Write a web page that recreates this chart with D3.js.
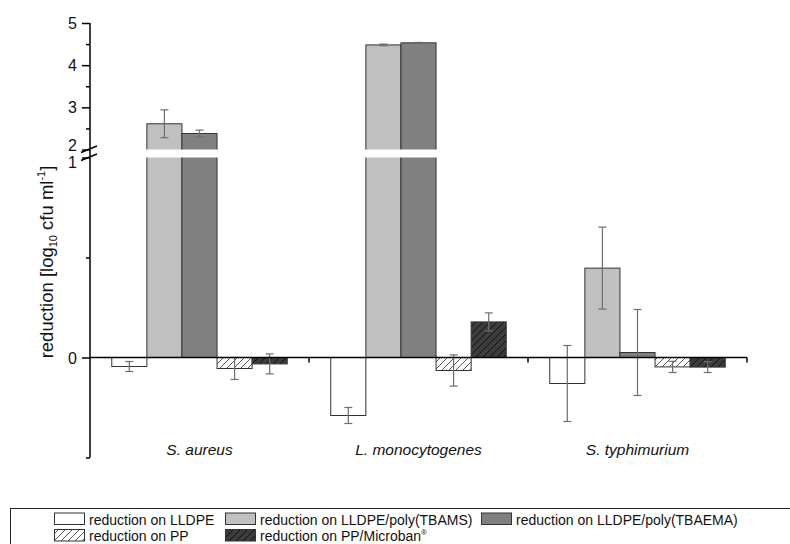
<!DOCTYPE html>
<html>
<head>
<meta charset="utf-8">
<script src="https://cdn.jsdelivr.net/npm/d3@7"></script>
<style>
  html, body { margin: 0; padding: 0; background: #fff; }
  svg { display: block; font-family: "Liberation Sans", Arial, sans-serif; }
</style>
</head>
<body>
<svg id="chart" width="790" height="544"></svg>
<script>
// Bacterial reduction per surface, log10 cfu/ml
const categories = ["S. aureus", "L. monocytogenes", "S. typhimurium"];
const seriesNames = [
  "reduction on LLDPE",
  "reduction on LLDPE/poly(TBAMS)",
  "reduction on LLDPE/poly(TBAEMA)",
  "reduction on PP",
  "reduction on PP/Microban"
];
const lldpe        = [-0.045, -0.29, -0.13];
const lldpeErr     = [0.025, 0.04, 0.19];
const tbams        = [2.61, 4.48, 0.447];
const tbamsErr     = [0.33, 0.02, 0.205];
const tbaema       = [2.38, 4.53, 0.025];
const tbaemaErr    = [0.08, 0.01, 0.215];
const pp           = [-0.055, -0.065, -0.047];
const ppErr        = [0.055, 0.078, 0.028];
const microban     = [-0.032, 0.178, -0.048];
const microbanErr  = [0.05, 0.045, 0.027];

// Broken y axis: lower segment and upper segment
const lowerTicks = [0, 1];
const lowerMinor = [-0.5, 0.5];
const upperTicks = [2, 3, 4, 5];
const upperMinor = [2.5, 3.5, 4.5];

const values = [lldpe, tbams, tbaema, pp, microban];
const errors = [lldpeErr, tbamsErr, tbaemaErr, ppErr, microbanErr];

const svg = d3.select("#chart");
const defs = svg.append("defs");

function hatch(id, bg, line) {
  const p = defs.append("pattern").attr("id", id)
    .attr("patternUnits", "userSpaceOnUse").attr("width", 7).attr("height", 7);
  p.append("rect").attr("width", 7).attr("height", 7).attr("fill", bg);
  p.append("path").attr("d", "M-1,1 L1,-1 M0,7 L7,0 M6,8 L8,6")
    .attr("stroke", line).attr("stroke-width", 1);
}
hatch("hatchPP", "#ffffff", "#555");
hatch("hatchMB", "#3c3c3c", "#111");

const fills = ["#ffffff", "#c0c0c0", "#808080", "url(#hatchPP)", "url(#hatchMB)"];

const xLeft = 90, xRight = 747;
const x0 = d3.scaleBand().domain(categories).range([xLeft, xRight]).padding(0);
const x1 = d3.scaleBand().domain(d3.range(seriesNames.length))
  .range([0, x0.bandwidth()]).paddingInner(0).paddingOuter(0.62);

const yLow = d3.scaleLinear().domain([-0.5, 1]).range([457.5, 157.5]);
const yHigh = d3.scaleLinear().domain([2, 5]).range([149.5, 23]);
const yMap = v => v >= 2 ? yHigh(v) : yLow(v);
const y0 = yLow(0);

// bars
const bars = [];
categories.forEach((c, ci) => {
  values.forEach((s, si) => {
    bars.push({ c, ci, si, v: s[ci], e: errors[si][ci] });
  });
});

const g = svg.append("g");
g.selectAll("rect.bar").data(bars).join("rect")
  .attr("class", "bar")
  .attr("x", d => x0(d.c) + x1(d.si))
  .attr("width", x1.bandwidth())
  .attr("y", d => Math.min(yMap(d.v), y0))
  .attr("height", d => Math.abs(yMap(d.v) - y0))
  .attr("fill", d => fills[d.si])
  .attr("stroke", "#333")
  .attr("stroke-width", 1);

// error bars
const eb = g.selectAll("g.err").data(bars).join("g").attr("class", "err")
  .attr("stroke", "#6e6e6e").attr("stroke-width", 1.2);
const cx = d => x0(d.c) + x1(d.si) + x1.bandwidth() / 2;
eb.append("line")
  .attr("x1", cx).attr("x2", cx)
  .attr("y1", d => yMap(d.v + d.e)).attr("y2", d => yMap(d.v - d.e));
eb.append("line")
  .attr("x1", d => cx(d) - 4).attr("x2", d => cx(d) + 4)
  .attr("y1", d => yMap(d.v + d.e)).attr("y2", d => yMap(d.v + d.e));
eb.append("line")
  .attr("x1", d => cx(d) - 4).attr("x2", d => cx(d) + 4)
  .attr("y1", d => yMap(d.v - d.e)).attr("y2", d => yMap(d.v - d.e));

// gap where the axis is broken
svg.append("rect")
  .attr("x", xLeft + 1).attr("width", xRight - xLeft)
  .attr("y", yHigh(2)).attr("height", yLow(1) - yHigh(2))
  .attr("fill", "#fff");

// y axes
function drawAxis(scale, major, minor, shift) {
  const a = svg.append("g").attr("transform", `translate(${xLeft},0)`);
  a.call(d3.axisLeft(scale).tickValues(major).tickSize(8).tickSizeOuter(0)
    .tickFormat(d3.format("d")).tickPadding(5));
  a.select(".domain").remove();
  a.selectAll("line").attr("stroke", "#000").attr("stroke-width", 1.5);
  a.selectAll("text").attr("font-size", 16).attr("fill", "#111")
    .attr("font-family", "Liberation Sans, Arial, sans-serif")
    .attr("dy", d => (shift[d] || 0) + 5.5);
  const m = svg.append("g").attr("transform", `translate(${xLeft},0)`);
  m.call(d3.axisLeft(scale).tickValues(minor).tickSize(4).tickFormat(""));
  m.select(".domain").remove();
  m.selectAll("line").attr("stroke", "#000").attr("stroke-width", 1.5);
}
drawAxis(yHigh, upperTicks, upperMinor, { 2: -5 });
drawAxis(yLow, lowerTicks, lowerMinor, { 1: 4.5 });

svg.append("line")
  .attr("x1", xLeft).attr("x2", xLeft)
  .attr("y1", yHigh(5)).attr("y2", yLow(-0.5))
  .attr("stroke", "#000").attr("stroke-width", 1.5);

// break marks
const bm = svg.append("g").attr("stroke", "#000").attr("stroke-width", 1.5);
bm.append("line").attr("x1", xLeft - 9).attr("y1", yHigh(2) + 3)
  .attr("x2", xLeft + 7).attr("y2", yHigh(2) - 3.5);
bm.append("line").attr("x1", xLeft - 9).attr("y1", yLow(1) + 3)
  .attr("x2", xLeft + 7).attr("y2", yLow(1) - 3.5);

// x axis along zero
const xa = svg.append("g").attr("transform", `translate(0,${y0})`);
xa.append("line").attr("x1", xLeft).attr("x2", xRight)
  .attr("stroke", "#000").attr("stroke-width", 1.5);
xa.selectAll("line.tk").data(categories).join("line").attr("class", "tk")
  .attr("x1", d => x0(d) + x0.bandwidth()).attr("x2", d => x0(d) + x0.bandwidth())
  .attr("y1", 0).attr("y2", 5)
  .attr("stroke", "#000").attr("stroke-width", 1.5);

// category labels
svg.selectAll("text.cat").data(categories).join("text").attr("class", "cat")
  .attr("x", d => x0(d) + x0.bandwidth() / 2)
  .attr("y", 455)
  .attr("text-anchor", "middle")
  .attr("font-size", 15.5)
  .attr("font-style", "italic")
  .attr("fill", "#111")
  .text(d => d);

// y title
const yt = svg.append("text")
  .attr("transform", "translate(53,262) rotate(-90)")
  .attr("text-anchor", "middle")
  .attr("font-size", 18.5)
  .attr("fill", "#111");
yt.append("tspan").text("reduction [log");
yt.append("tspan").attr("font-size", 11).attr("dy", 4).text("10");
yt.append("tspan").attr("dy", -4).text(" cfu ml");
yt.append("tspan").attr("font-size", 11).attr("dy", -8).text("-1");
yt.append("tspan").attr("dy", 8).text("]");

// legend
const lg = svg.append("g");
lg.append("rect").attr("x", 10.5).attr("y", 508.5).attr("width", 800).attr("height", 80)
  .attr("fill", "none").attr("stroke", "#222").attr("stroke-width", 1);
const legendPos = [
  { x: 54, y: 513 }, { x: 225, y: 513 }, { x: 481, y: 513 },
  { x: 54, y: 529.5 }, { x: 225, y: 529.5 }
];
seriesNames.forEach((name, i) => {
  const p = legendPos[i];
  lg.append("rect").attr("x", p.x + 0.5).attr("y", p.y).attr("width", 30).attr("height", 11.5)
    .attr("fill", fills[i]).attr("stroke", "#333").attr("stroke-width", 1);
  const t = lg.append("text").attr("x", p.x + 35).attr("y", p.y + 11.5)
    .attr("font-size", 14).attr("fill", "#111").text(name);
  if (i === 4) {
    t.append("tspan").attr("font-size", 8).attr("dy", -6).text("®");
  }
});
</script>
</body>
</html>
